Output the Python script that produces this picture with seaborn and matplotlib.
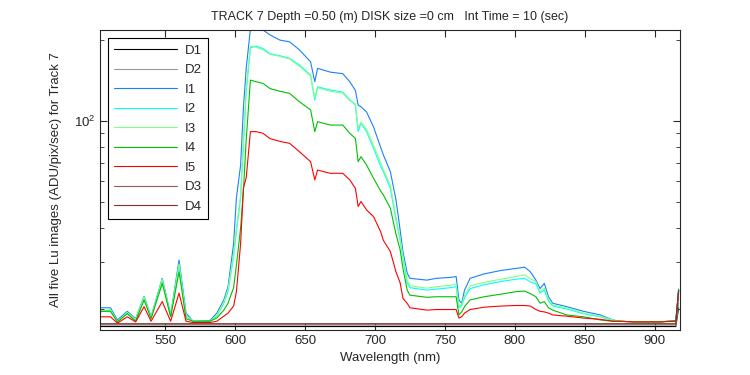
import numpy as np
import pandas as pd
import seaborn as sns
import matplotlib
matplotlib.use('Agg')
import matplotlib.pyplot as plt
from matplotlib.ticker import NullFormatter, LogLocator

# wavelength grid (nm) for the five Lu images
wavelength = [504, 511, 516, 523, 529, 535, 540, 548, 554, 560,
              565, 570, 582, 587, 592, 595, 599, 601, 604, 606,
              608, 611, 615, 620, 625, 632, 639, 646, 654, 657,
              659, 668, 677, 682, 686, 688, 690, 694, 699, 704,
              706, 711, 715, 718, 720, 723, 725, 737, 744, 754,
              758, 760, 762, 764, 768, 778, 790, 801, 807, 811,
              815, 818, 821, 824, 827, 837, 849, 861, 870, 875,
              885, 904, 915, 917]

I1 = [20.2, 20.2, 18.2, 19.6, 18.4, 22.3, 18.7, 26.0, 19.0, 30.4,
      19.3, 18.0, 18.1, 19.3, 21.6, 24.2, 35.0, 51.8, 68.6, 111.8,
      157, 220, 228, 218, 209, 200, 197, 184, 166, 140,
      157, 152, 150, 140, 130, 114.6, 113, 108, 95, 80,
      74.8, 64.8, 51, 39.3, 32.7, 27.2, 26.0, 25.6, 26.0, 26.2,
      26.4, 21.6, 21.0, 23.5, 26.0, 27.0, 27.8, 28.3, 28.6, 27.5,
      25.6, 23.8, 24.9, 22.2, 21.0, 20.4, 19.6, 19.0, 18.2, 18.0,
      17.9, 17.9, 18.1, 23.5]

I2 = [19.5, 19.8, 17.9, 19.3, 18.2, 22.1, 18.5, 25.6, 18.8, 29.1,
      18.8, 18.0, 18.0, 18.8, 21.0, 23.2, 31.3, 38.7, 51.8, 81.4,
      128, 187, 190, 186, 178, 175, 171, 161.6, 148, 119.7,
      134, 130.4, 128, 120, 114.6, 91.3, 98, 91.3, 79.1, 68,
      64.8, 56.2, 43, 36.1, 30.9, 25.0, 24.0, 23.5, 23.7, 24.0,
      24.2, 20.2, 20.6, 22.0, 23.8, 24.6, 25.3, 25.8, 26.0, 25.2,
      24.8, 22.9, 23.5, 21.4, 20.5, 20.0, 19.2, 18.7, 18.1, 18.0,
      17.9, 17.9, 18.1, 23.8]

I3 = [19.6, 19.9, 18.0, 19.4, 18.3, 22.2, 18.6, 25.8, 18.9, 29.4,
      18.9, 18.0, 18.0, 18.9, 21.2, 23.6, 32, 40, 53, 84,
      132, 190, 188, 184, 177, 174, 170, 160, 147, 122,
      133, 129, 127, 119, 116, 94, 99, 93, 81, 70,
      66, 57.5, 44, 36.5, 31.5, 25.5, 24.4, 23.9, 24.2, 24.5,
      24.8, 20.4, 20.9, 22.4, 24.4, 25.1, 25.8, 26.4, 26.8, 25.9,
      25.3, 23.2, 23.9, 21.7, 20.7, 20.2, 19.3, 18.8, 18.2, 18.0,
      17.9, 17.9, 18.1, 23.5]

I4 = [19.6, 19.6, 17.9, 19.2, 18.0, 21.6, 18.4, 24.9, 18.7, 27.5,
      18.4, 18.0, 18.0, 18.5, 19.8, 21.0, 24, 29.1, 40, 54.9,
      85, 142, 140, 138, 132, 129, 126.7, 118, 110, 91.3,
      99.4, 96.6, 96.6, 90, 86.2, 70.6, 73.7, 68.6, 61.2, 55,
      53.1, 47.4, 38, 33.2, 28.3, 23.5, 22.5, 22.1, 22.2, 22.2,
      22.2, 19.0, 19.5, 20.4, 21.6, 22.2, 22.7, 23.2, 23.3, 22.8,
      22.2, 21.0, 21.3, 20.2, 19.8, 19.0, 18.7, 18.2, 18.0, 18.0,
      17.9, 17.9, 18.1, 23.5]

I5 = [18.7, 18.7, 17.7, 18.7, 17.9, 20.4, 18.0, 21.3, 18.0, 22.9,
      18.0, 17.8, 17.8, 18.0, 18.8, 19.3, 20.5, 23.2, 35, 56.4,
      61.5, 91.3, 91.3, 90, 86, 84, 82.6, 76.9, 70.6, 60.4,
      65.7, 63.9, 63.9, 60.4, 56.2, 48.1, 50.2, 46.7, 44.1, 38.8,
      36, 32.7, 27.5, 25, 21.9, 21.0, 20.2, 19.8, 19.9, 19.9,
      19.9, 18.5, 18.7, 19.3, 19.9, 20.3, 20.5, 20.6, 20.6, 20.5,
      19.9, 19.6, 19.5, 19.3, 19.0, 18.8, 18.5, 18.3, 18.0, 18.0,
      17.9, 17.9, 18.0, 23.0]

# dark frames, nearly flat
wl_dark = [504, 560, 620, 700, 760, 820, 880, 915, 917]
D1 = [17.2, 17.2, 17.2, 17.2, 17.2, 17.2, 17.2, 17.2, 20.2]
D2 = [17.4, 17.4, 17.4, 17.4, 17.4, 17.4, 17.4, 17.4, 21.0]
D3 = [17.6, 17.6, 17.6, 17.6, 17.6, 17.6, 17.6, 17.6, 23.5]
D4 = [17.6, 17.6, 17.6, 17.6, 17.6, 17.6, 17.6, 17.6, 23.5]

series = [('D1', wl_dark, D1, 'black'),
          ('D2', wl_dark, D2, '#999999'),
          ('I1', wavelength, I1, '#1a80ff'),
          ('I2', wavelength, I2, '#00ffff'),
          ('I3', wavelength, I3, '#80ff80'),
          ('I4', wavelength, I4, '#00c000'),
          ('I5', wavelength, I5, '#ff0000'),
          ('D3', wl_dark, D3, '#8c5a5a'),
          ('D4', wl_dark, D4, '#803030')]

sns.set_style('ticks')
plt.rcParams['font.family'] = ['Liberation Sans', 'DejaVu Sans']

fig = plt.figure(figsize=(7.5, 3.75), dpi=100)
ax = fig.add_axes([0.1333, 0.12, 0.7734, 0.80])

for name, x, y, c in series:
    sns.lineplot(x=x, y=y, color=c, lw=0.8, label=name, ax=ax)

ax.set_yscale('log')
ax.set_xlim(503.5, 918)
ax.set_ylim(16.7, 218)
ax.set_xticks([550, 600, 650, 700, 750, 800, 850, 900])
ax.yaxis.set_minor_locator(LogLocator(base=10, subs=np.arange(2, 10)))
ax.yaxis.set_minor_formatter(NullFormatter())
ax.tick_params(which='both', direction='in', top=True, right=True, labelsize=9.5)
ax.tick_params(which='major', length=5)
ax.tick_params(which='minor', length=3)
for s in ax.spines.values():
    s.set_linewidth(0.8)

ax.set_title('TRACK 7 Depth =0.50 (m) DISK size =0 cm   Int Time = 10 (sec)', fontsize=9, pad=7)
ax.set_xlabel('Wavelength (nm)', fontsize=9.5)
ax.set_ylabel('All five Lu images (ADU/pix/sec) for Track 7', fontsize=9.5, labelpad=8)

leg = ax.legend(loc='upper left', fontsize=9.5, handlelength=4.7, labelspacing=0.55,
                handletextpad=0.6, borderpad=0.5,
                fancybox=False, edgecolor='black', framealpha=1, borderaxespad=0.6)
leg.get_frame().set_linewidth(0.8)

fig.savefig('out.png', dpi=100)
